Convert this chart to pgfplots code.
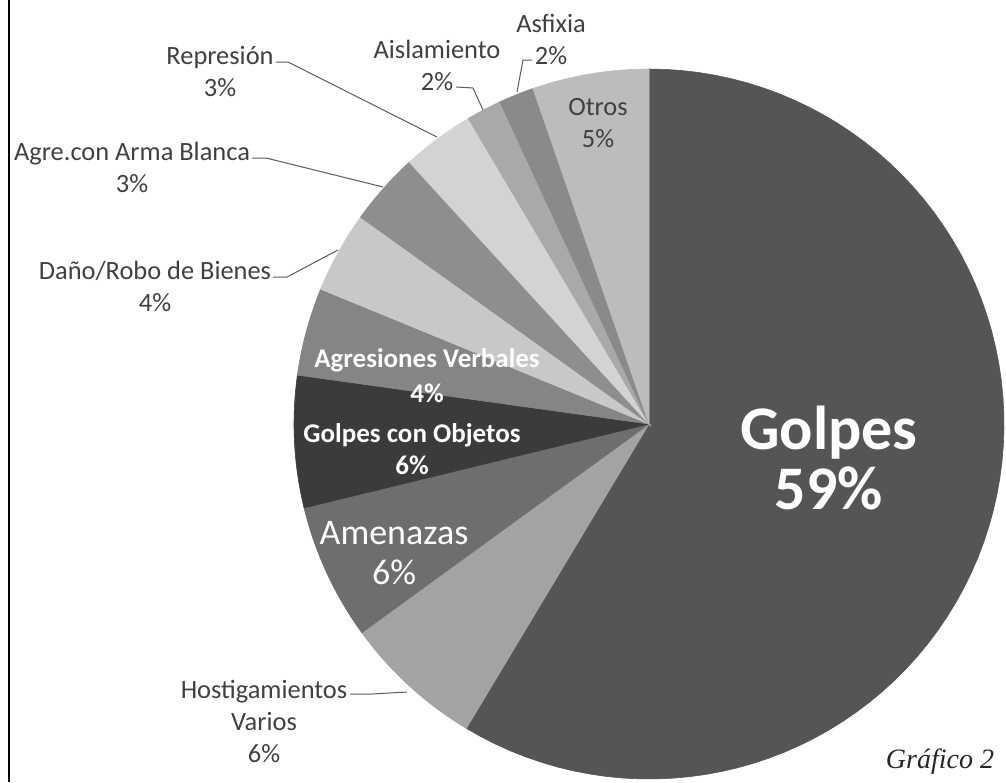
\documentclass[border=0pt]{standalone}
\usepackage{pgfplots}
\pgfplotsset{compat=1.18}
\usepackage{pgfplotstable}
\usepackage{fontspec}
\setmainfont{Carlito}
\newfontfamily\capfont{Liberation Serif}
\definecolor{cGolpes}{HTML}{555555}
\definecolor{cHost}{HTML}{A3A3A3}
\definecolor{cAmen}{HTML}{6E6E6E}
\definecolor{cObj}{HTML}{3B3B3B}
\definecolor{cVerb}{HTML}{858585}
\definecolor{cDano}{HTML}{C8C8C8}
\definecolor{cArma}{HTML}{8E8E8E}
\definecolor{cRepr}{HTML}{D3D3D3}
\definecolor{cAisl}{HTML}{A9A9A9}
\definecolor{cAsf}{HTML}{8A8A8A}
\definecolor{cOtros}{HTML}{BCBCBC}
\definecolor{txt}{HTML}{404040}
\definecolor{lead}{HTML}{5A5A5A}
% slice shares (percent), clockwise from 12 o'clock
\pgfplotstableread{
name value
Golpes 58.6
Hostigamientos 6.4
Amenazas 6.2
GolpesObjetos 6.0
AgresionesVerbales 4.0
DanoRobo 3.7
ArmaBlanca 3.3
Represion 3.3
Aislamiento 1.6
Asfixia 1.6
Otros 5.3
}\piedata
\def\cx{649}\def\cy{424}\def\R{355}
\def\curang{90}
\newcommand\slice[2]{%
  \pgfplotstablegetelem{#1}{value}\of\piedata
  \pgfmathsetmacro\nextang{\curang-3.6*\pgfplotsretval}%
  \edef\doslice{\noexpand\addplot[fill=#2, draw=#2, line width=0.3pt, domain=\nextang:\curang, samples=80, variable=\noexpand\t]
    ({\cx+\R*cos(\noexpand\t)},{\cy-\R*sin(\noexpand\t)}) -- (axis cs:\cx,\cy) -- cycle;}%
  \doslice
  \global\let\curang\nextang
}
\begin{document}
\begin{tikzpicture}
\useasboundingbox (0,0) rectangle (503pt,391pt);
\begin{axis}[
  scale only axis, width=503pt, height=391pt,
  xmin=0, xmax=1006, ymin=0, ymax=782, y dir=reverse,
  hide axis, clip=false]
\slice{0}{cGolpes}
\slice{1}{cHost}
\slice{2}{cAmen}
\slice{3}{cObj}
\slice{4}{cVerb}
\slice{5}{cDano}
\slice{6}{cArma}
\slice{7}{cRepr}
\slice{8}{cAisl}
\slice{9}{cAsf}
\slice{10}{cOtros}
% frame line
\draw[line width=1.1pt, black] (axis cs:9,0) -- (axis cs:9,782);
% leader lines
\draw[lead, line width=0.5pt] (axis cs:276,62) -- (axis cs:288,62) -- (axis cs:437,137);
\draw[lead, line width=0.5pt] (axis cs:252,158) -- (axis cs:266,158) -- (axis cs:383,187);
\draw[lead, line width=0.5pt] (axis cs:273,277) -- (axis cs:287,277) -- (axis cs:338,250);
\draw[lead, line width=0.5pt] (axis cs:456,87) -- (axis cs:473,88) -- (axis cs:483,110);
\draw[lead, line width=0.5pt] (axis cs:532,60) -- (axis cs:523,60) -- (axis cs:517,92);
\draw[lead, line width=0.5pt] (axis cs:350,694) -- (axis cs:372,694) -- (axis cs:407,692);
% outer labels
\tikzset{outl/.style={text=txt, font=\fontsize{13.2pt}{16pt}\selectfont, align=center, inner sep=0pt}}
\node[outl] at (axis cs:220,72) {Represión\\3\%};
\node[outl] at (axis cs:132,167) {Agre.con Arma Blanca\\3\%};
\node[outl] at (axis cs:155,286) {Daño/Robo de Bienes\\4\%};
\node[outl] at (axis cs:437,65) {Aislamiento\\2\%};
\node[outl] at (axis cs:551,39) {Asfixia\\2\%};
\node[outl] at (axis cs:598,123) {Otros\\5\%};
\node[outl] at (axis cs:264,721) {Hostigamientos\\Varios\\6\%};
% inner labels
\node[text=white, font=\fontsize{13.5pt}{17.5pt}\selectfont\bfseries, align=center, inner sep=0pt] at (axis cs:427,376) {Agresiones Verbales\\4\%};
\node[text=white, font=\fontsize{13.5pt}{16pt}\selectfont\bfseries, align=center, inner sep=0pt] at (axis cs:412,449) {Golpes con Objetos\\6\%};
\node[text=white, font=\fontsize{18pt}{20pt}\selectfont, align=center, inner sep=0pt] at (axis cs:394,553) {Amenazas\\6\%};
\node[text=white, font=\fontsize{31pt}{30pt}\selectfont\bfseries, align=center, inner sep=0pt] at (axis cs:829,458) {Golpes\\59\%};
\node[text=black!85, font=\capfont\itshape\fontsize{14pt}{16pt}\selectfont, inner sep=0pt] at (axis cs:940,762) {Gráfico 2};
\end{axis}
\end{tikzpicture}
\end{document}
